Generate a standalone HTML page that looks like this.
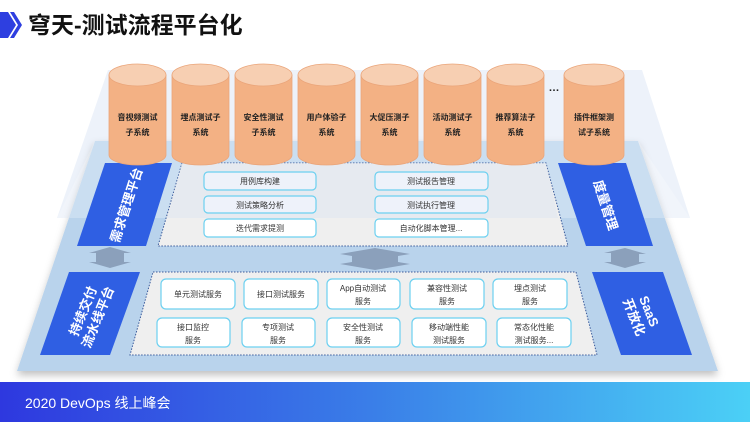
<!DOCTYPE html>
<html><head><meta charset="utf-8"><style>
body{margin:0;width:750px;height:422px;overflow:hidden;background:#fff;font-family:"Liberation Sans","Noto Sans CJK SC",sans-serif}
text{font-family:"Liberation Sans","Noto Sans CJK SC",sans-serif}
</style></head><body>
<svg width="750" height="422" viewBox="0 0 750 422" xmlns="http://www.w3.org/2000/svg">
<defs>
<linearGradient id="ft" x1="0" x2="1"><stop offset="0" stop-color="#2e38df"/><stop offset="0.5" stop-color="#3a7fe8"/><stop offset="1" stop-color="#4bd0f6"/></linearGradient>
<filter id="sh" x="-10%" y="-10%" width="120%" height="130%"><feDropShadow dx="0" dy="4" stdDeviation="4" flood-color="#000" flood-opacity="0.25"/></filter>
</defs>
<polygon points="0,12 8,12 16,25 8,38 0,38" fill="#2e3fe0"/>
<polygon points="10,12 14,12 22,25 14,38 10,38 18,25" fill="#2e3fe0"/>
<text x="28" y="33" font-size="23" font-weight="bold" fill="#111">穹天-测试流程平台化</text>
<polygon points="108,70 642,70 690,218 57,218" fill="#edf2fa"/>
<polygon points="95,141 638,141 718,371 17,371" fill="#b9d3ec" filter="url(#sh)"/>
<polygon points="95,141 638,141 690,218 57,218" fill="#ffffff" opacity="0.25"/>
<polygon points="182,163 546,163 568,246 158,246" fill="#efefef" stroke="#3a5a9a" stroke-width="1" stroke-dasharray="1.5,1.5"/>
<polygon points="153,272 576,272 597,355 130,355" fill="#efefef" stroke="#3a5a9a" stroke-width="1" stroke-dasharray="1.5,1.5"/>
<polygon points="182,163 546,163 558,218 167,218" fill="#dfe6f0" opacity="0.6"/>
<polygon points="105,163 172,163 146,246 77,246" fill="#2f5fe3"/>
<polygon points="69,272 140,272 110,355 40,355" fill="#2f5fe3"/>
<polygon points="558,163 626,163 653,246 586,246" fill="#2f5fe3"/>
<polygon points="592,272 663,272 692,355 621,355" fill="#2f5fe3"/>
<text transform="translate(126,205) rotate(-72)" text-anchor="middle" font-size="13" font-weight="bold" fill="#fff" dy="5">需求管理平台</text>
<text transform="translate(90,314) rotate(-68)" text-anchor="middle" font-size="13" font-weight="bold" fill="#fff"><tspan x="0" dy="-3">持续交付</tspan><tspan x="0" dy="16">流水线平台</tspan></text>
<text transform="translate(606,205) rotate(72)" text-anchor="middle" font-size="13" font-weight="bold" fill="#fff" dy="5">度量管理</text>
<text transform="translate(642,314) rotate(68)" text-anchor="middle" font-size="13" font-weight="bold" fill="#fff"><tspan x="0" dy="-3">SaaS</tspan><tspan x="0" dy="16">开放化</tspan></text>
<g fill="#8ba0bb">
<polygon points="110,247 131,253 124,253 124,262 131,262 110,268 89,262 96,262 96,253 89,253"/>
<polygon points="375,248 410,254 398,256 398,262 410,264 375,270 340,264 352,262 352,256 340,254"/>
<polygon points="625,248 646,254 639,254 639,262 646,262 625,268 604,262 611,262 611,253 604,253"/>
</g>
<g stroke="#eaa57a" stroke-width="0.8">
<path d="M109,75 V155 A28.5,10 0 0 0 166,155 V75" fill="#f3b184"/><ellipse cx="137.5" cy="75" rx="28.5" ry="11" fill="#f7cfb2"/>
<path d="M172,75 V155 A28.5,10 0 0 0 229,155 V75" fill="#f3b184"/><ellipse cx="200.5" cy="75" rx="28.5" ry="11" fill="#f7cfb2"/>
<path d="M235,75 V155 A28.5,10 0 0 0 292,155 V75" fill="#f3b184"/><ellipse cx="263.5" cy="75" rx="28.5" ry="11" fill="#f7cfb2"/>
<path d="M298,75 V155 A28.5,10 0 0 0 355,155 V75" fill="#f3b184"/><ellipse cx="326.5" cy="75" rx="28.5" ry="11" fill="#f7cfb2"/>
<path d="M361,75 V155 A28.5,10 0 0 0 418,155 V75" fill="#f3b184"/><ellipse cx="389.5" cy="75" rx="28.5" ry="11" fill="#f7cfb2"/>
<path d="M424,75 V155 A28.5,10 0 0 0 481,155 V75" fill="#f3b184"/><ellipse cx="452.5" cy="75" rx="28.5" ry="11" fill="#f7cfb2"/>
<path d="M487,75 V155 A28.5,10 0 0 0 544,155 V75" fill="#f3b184"/><ellipse cx="515.5" cy="75" rx="28.5" ry="11" fill="#f7cfb2"/>
<path d="M564,75 V155 A30,10 0 0 0 624,155 V75" fill="#f3b184"/><ellipse cx="594" cy="75" rx="30" ry="11" fill="#f7cfb2"/>
</g>
<g font-size="8" font-weight="bold" fill="#222" text-anchor="middle">
<text x="137.5" y="120">音视频测试</text><text x="137.5" y="135">子系统</text>
<text x="200.5" y="120">埋点测试子</text><text x="200.5" y="135">系统</text>
<text x="263.5" y="120">安全性测试</text><text x="263.5" y="135">子系统</text>
<text x="326.5" y="120">用户体验子</text><text x="326.5" y="135">系统</text>
<text x="389.5" y="120">大促压测子</text><text x="389.5" y="135">系统</text>
<text x="452.5" y="120">活动测试子</text><text x="452.5" y="135">系统</text>
<text x="515.5" y="120">推荐算法子</text><text x="515.5" y="135">系统</text>
<text x="594" y="120">插件框架测</text><text x="594" y="135">试子系统</text>
<text x="554" y="91" font-size="11">…</text>
</g>
<g stroke="#6cd0f0" stroke-width="1.2">
<rect x="204" y="172" width="112" height="18" rx="4" fill="#eef2fa"/>
<rect x="204" y="196" width="112" height="17" rx="4" fill="#eef2fa"/>
<rect x="204" y="219" width="112" height="18" rx="4" fill="#fff"/>
<rect x="375" y="172" width="113" height="18" rx="4" fill="#eef2fa"/>
<rect x="375" y="196" width="113" height="17" rx="4" fill="#eef2fa"/>
<rect x="375" y="219" width="113" height="18" rx="4" fill="#fff"/>
<rect x="161" y="279" width="74" height="30" rx="5" fill="#fff"/>
<rect x="244" y="279" width="74" height="30" rx="5" fill="#fff"/>
<rect x="327" y="279" width="73" height="30" rx="5" fill="#fff"/>
<rect x="410" y="279" width="74" height="30" rx="5" fill="#fff"/>
<rect x="493" y="279" width="74" height="30" rx="5" fill="#fff"/>
<rect x="157" y="318" width="73" height="29" rx="5" fill="#fff"/>
<rect x="242" y="318" width="73" height="29" rx="5" fill="#fff"/>
<rect x="327" y="318" width="73" height="29" rx="5" fill="#fff"/>
<rect x="412" y="318" width="74" height="29" rx="5" fill="#fff"/>
<rect x="497" y="318" width="74" height="29" rx="5" fill="#fff"/>
</g>
<g font-size="8" fill="#333" text-anchor="middle">
<text x="260" y="184">用例库构建</text><text x="260" y="208">测试策略分析</text><text x="260" y="231">迭代需求提测</text>
<text x="431" y="184">测试报告管理</text><text x="431" y="208">测试执行管理</text><text x="431" y="231">自动化脚本管理...</text>
<text x="198" y="297">单元测试服务</text><text x="281" y="297">接口测试服务</text>
<text x="363" y="291">App自动测试</text><text x="363" y="304">服务</text>
<text x="447" y="291">兼容性测试</text><text x="447" y="304">服务</text>
<text x="530" y="291">埋点测试</text><text x="530" y="304">服务</text>
<text x="193" y="330">接口监控</text><text x="193" y="343">服务</text>
<text x="278" y="330">专项测试</text><text x="278" y="343">服务</text>
<text x="363" y="330">安全性测试</text><text x="363" y="343">服务</text>
<text x="449" y="330">移动端性能</text><text x="449" y="343">测试服务</text>
<text x="534" y="330">常态化性能</text><text x="534" y="343">测试服务...</text>
</g>
<rect x="0" y="382" width="750" height="40" fill="url(#ft)"/>
<text x="25" y="408" font-size="14" fill="#fff">2020 DevOps 线上峰会</text>
</svg>
</body></html>
